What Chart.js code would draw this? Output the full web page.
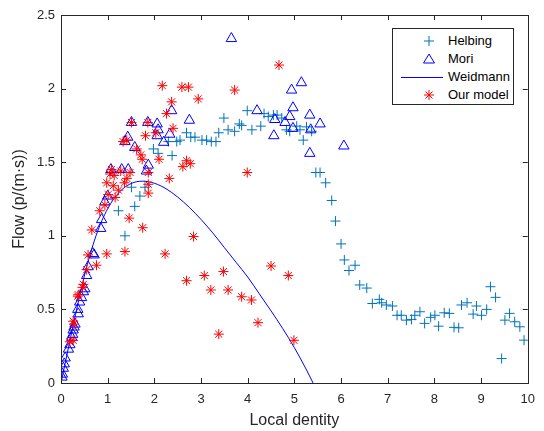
<!DOCTYPE html>
<html>
<head>
<meta charset="utf-8">
<script src="https://cdn.jsdelivr.net/npm/chart.js@4.4.1/dist/chart.umd.min.js"></script>
<style>
  html, body { margin: 0; padding: 0; background: #fff; }
  #wrap { position: relative; width: 544px; height: 431px; }
  #legend {
    position: absolute; left: 392px; top: 28px; width: 120px; height: 75px;
    border: 1px solid #262626; background: #fff;
    font: 13px 'Liberation Sans', Arial, sans-serif; color: #000;
  }
  #legend .row { position: absolute; left: 0; height: 18px; line-height: 18px; }
  #legend svg { position: absolute; left: 6px; top: 0; }
  #legend span { position: absolute; left: 55px; white-space: nowrap; }
</style>
</head>
<body>
<div id="wrap">
  <canvas id="chart" width="544" height="431"></canvas>
  <div id="legend">
    <div class="row" style="top:3px"><svg width="46" height="18"><path d="M30 4v10M25 9h10" stroke="#0072BD" fill="none"/></svg><span>Helbing</span></div>
    <div class="row" style="top:21px"><svg width="46" height="18"><path d="M30 4L35.5 13H24.5Z" stroke="#0000FF" fill="none"/></svg><span>Mori</span></div>
    <div class="row" style="top:39px"><svg width="46" height="18"><path d="M2 9.5H44" stroke="#0000FF" fill="none"/></svg><span>Weidmann</span></div>
    <div class="row" style="top:57px"><svg width="46" height="18"><path d="M30 4v10M25 9h10M26.5 5.5l7 7M33.5 5.5l-7 7" stroke="#FF0000" fill="none"/></svg><span>Our model</span></div>
  </div>
</div>
<script>
// x ticks / y ticks
const xTicks = [0, 1, 2, 3, 4, 5, 6, 7, 8, 9, 10];
const yTicks = [0, 0.5, 1, 1.5, 2, 2.5];

// Helbing (density, flow)
const helbing = [
  [1.23, 1.17], [1.37, 1.0], [1.51, 1.33], [1.58, 1.20], [1.69, 1.27], [1.80, 1.33],
  [1.98, 1.59], [2.08, 1.56], [2.30, 1.64], [2.38, 1.545], [2.48, 1.64], [2.55, 1.65],
  [2.69, 1.70], [2.78, 1.67], [2.87, 1.67], [3.02, 1.65], [3.12, 1.65], [3.22, 1.64],
  [3.32, 1.64], [3.38, 1.70], [3.49, 1.80], [3.58, 1.72], [3.72, 1.71], [3.82, 1.76],
  [3.87, 1.75], [3.99, 1.85], [4.09, 1.72], [4.28, 1.745], [4.35, 1.83], [4.44, 1.81],
  [4.55, 1.82], [4.63, 1.82], [4.73, 1.80], [4.83, 1.72], [4.90, 1.71], [5.05, 1.745],
  [5.12, 1.72], [5.19, 1.65], [5.26, 1.74], [5.37, 1.71], [5.46, 1.43], [5.55, 1.43],
  [5.67, 1.36], [5.80, 1.24], [5.88, 1.10], [6.0, 0.945], [6.07, 0.836], [6.17, 0.764],
  [6.30, 0.80], [6.40, 0.666], [6.55, 0.645], [6.67, 0.54], [6.82, 0.568], [6.87, 0.545],
  [6.97, 0.53], [7.10, 0.523], [7.20, 0.46], [7.29, 0.46], [7.40, 0.427], [7.51, 0.432],
  [7.58, 0.46], [7.69, 0.484], [7.79, 0.405], [7.92, 0.446], [8.01, 0.46], [8.09, 0.386],
  [8.21, 0.477], [8.32, 0.473], [8.42, 0.378], [8.52, 0.375], [8.58, 0.53], [8.70, 0.545],
  [8.83, 0.468], [8.90, 0.523], [9.01, 0.46], [9.12, 0.50], [9.20, 0.654], [9.31, 0.582],
  [9.44, 0.166], [9.51, 0.427], [9.61, 0.473], [9.72, 0.416], [9.83, 0.382], [9.92, 0.291]
];

// Mori
const mori = [
  [0.02, 0.04], [0.03, 0.06], [0.05, 0.10], [0.07, 0.13], [0.09, 0.17], [0.16, 0.23],
  [0.19, 0.26], [0.23, 0.31], [0.25, 0.33], [0.26, 0.36], [0.28, 0.38], [0.30, 0.40],
  [0.36, 0.50], [0.37, 0.47], [0.40, 0.55], [0.44, 0.58], [0.48, 0.62], [0.51, 0.64],
  [0.55, 0.73], [0.58, 0.79], [0.68, 0.88], [0.71, 0.87], [0.85, 1.05], [0.87, 1.11],
  [0.94, 1.23], [1.0, 1.27], [1.07, 1.45], [1.30, 1.45], [1.44, 1.45], [1.37, 1.64],
  [1.43, 1.67], [1.51, 1.77], [1.58, 1.60], [1.83, 1.44], [1.87, 1.48], [1.86, 1.77],
  [2.06, 1.76], [2.06, 1.68], [2.08, 1.72], [2.20, 1.635], [2.33, 1.69], [2.37, 1.85],
  [2.75, 1.785], [3.65, 2.34], [4.20, 1.85], [4.56, 1.68], [4.58, 1.79], [4.80, 1.77],
  [4.90, 1.81], [4.94, 1.99], [4.97, 1.87], [4.97, 1.73], [5.15, 2.04], [5.33, 1.82],
  [5.35, 1.72], [5.55, 1.76], [5.33, 1.56], [6.06, 1.61]
];

// Weidmann curve
const weidmannX = [0, 0.1, 0.25, 0.5, 0.75, 1.0, 1.25, 1.5, 1.75, 2.0, 2.25, 2.5, 2.75, 3.0, 3.25, 3.5, 3.75, 4.0, 4.25, 4.5, 4.75, 5.0, 5.25, 5.4];
const weidmannY = [0, 0.15, 0.375, 0.727, 1.0, 1.184, 1.297, 1.355, 1.371, 1.357, 1.32, 1.263, 1.193, 1.111, 1.02, 0.92, 0.82, 0.72, 0.605, 0.49, 0.37, 0.24, 0.095, 0];

// Our model
const ourModel = [
  [0.19, 0.28], [0.26, 0.29], [0.26, 0.42], [0.28, 0.40], [0.36, 0.59], [0.37, 0.60],
  [0.46, 0.65], [0.48, 0.67], [0.55, 0.77], [0.58, 0.87], [0.66, 1.04], [0.76, 0.80],
  [0.83, 1.17], [0.94, 1.21], [0.98, 0.877], [0.98, 1.36], [1.01, 1.28], [1.05, 1.42],
  [1.08, 1.45], [1.12, 1.34], [1.14, 1.41], [1.16, 1.26], [1.23, 1.31], [1.28, 1.44],
  [1.36, 1.36], [1.37, 0.893], [1.41, 1.39], [1.46, 1.12], [1.48, 1.43], [1.75, 1.055],
  [1.87, 1.29], [1.87, 1.35], [1.87, 1.43], [2.23, 0.877], [2.32, 1.39], [1.33, 1.64],
  [1.41, 1.65], [1.51, 1.77], [1.62, 1.59], [1.71, 1.55], [1.74, 1.52], [1.81, 1.68],
  [1.86, 1.77], [2.03, 1.70], [2.10, 1.52], [2.17, 2.02], [2.26, 1.83], [2.37, 1.91],
  [2.40, 1.73], [2.59, 2.01], [2.61, 1.47], [2.69, 1.51], [2.73, 2.01], [2.77, 1.49],
  [2.94, 1.93], [3.72, 1.99], [4.67, 2.16], [3.99, 1.43], [2.69, 0.695], [2.84, 0.995],
  [3.07, 0.73], [3.21, 0.632], [3.38, 0.332], [3.48, 0.757], [3.58, 0.632], [3.87, 0.586],
  [4.08, 0.564], [4.22, 0.41], [4.50, 0.795], [4.87, 0.73], [4.99, 0.29]
];

const ink = '#262626';
const font = "'Liberation Sans', Arial, sans-serif";
const pts = (list) => list.map(([x, y]) => ({ x, y }));

// MATLAB style box with inward ticks
const boxTicks = {
  id: 'boxTicks',
  afterDraw(chart) {
    const { ctx, chartArea: a, scales: { x, y } } = chart;
    const len = 5;
    ctx.save();
    ctx.strokeStyle = ink;
    ctx.lineWidth = 1;
    ctx.beginPath();
    xTicks.forEach((v) => {
      const px = Math.round(x.getPixelForValue(v)) + 0.5;
      ctx.moveTo(px, a.bottom); ctx.lineTo(px, a.bottom - len);
      ctx.moveTo(px, a.top); ctx.lineTo(px, a.top + len);
    });
    yTicks.forEach((v) => {
      const py = Math.round(y.getPixelForValue(v)) + 0.5;
      ctx.moveTo(a.left, py); ctx.lineTo(a.left + len, py);
      ctx.moveTo(a.right, py); ctx.lineTo(a.right - len, py);
    });
    ctx.stroke();
    ctx.strokeRect(Math.round(a.left) + 0.5, Math.round(a.top) + 0.5, Math.round(a.right - a.left), Math.round(a.bottom - a.top));
    ctx.restore();
  }
};

new Chart(document.getElementById('chart'), {
  type: 'scatter',
  data: {
    datasets: [
      { label: 'Helbing', data: pts(helbing), order: 3, pointStyle: 'cross', pointRadius: 5,
        borderColor: '#0072BD', backgroundColor: '#0072BD', borderWidth: 1 },
      { label: 'Mori', data: pts(mori), order: 2, pointStyle: 'triangle', pointRadius: 6,
        borderColor: '#0000FF', backgroundColor: 'rgba(0,0,0,0)', borderWidth: 1 },
      { label: 'Weidmann', type: 'line', data: weidmannX.map((x, i) => ({ x, y: weidmannY[i] })), order: 1,
        borderColor: '#0000FF', borderWidth: 1, pointRadius: 0, cubicInterpolationMode: 'monotone', fill: false },
      { label: 'Our model', data: pts(ourModel), order: 0, pointStyle: 'star', pointRadius: 5,
        borderColor: '#FF0000', backgroundColor: '#FF0000', borderWidth: 1 }
    ]
  },
  options: {
    responsive: false,
    animation: false,
    layout: { padding: { top: 15, right: 16, left: 0, bottom: 0 } },
    plugins: { legend: { display: false }, tooltip: { enabled: false } },
    scales: {
      x: {
        type: 'linear', min: 0, max: 10,
        afterFit: (s) => { s.height = 48; },
        afterBuildTicks: (s) => { s.ticks = xTicks.map((value) => ({ value })); },
        grid: { display: false, drawTicks: false },
        border: { display: false },
        ticks: { color: ink, padding: 9, font: { family: font, size: 13 }, maxRotation: 0, callback: (v) => String(v) },
        title: { display: true, text: 'Local dentity', color: ink, padding: { top: 0, bottom: 1 }, font: { family: font, size: 16 } }
      },
      y: {
        type: 'linear', min: 0, max: 2.5,
        afterFit: (s) => { s.width = 61; },
        afterBuildTicks: (s) => { s.ticks = yTicks.map((value) => ({ value })); },
        grid: { display: false, drawTicks: false },
        border: { display: false },
        ticks: { color: ink, padding: 6, font: { family: font, size: 13 }, callback: (v) => String(v) },
        title: { display: true, text: 'Flow (p/(m·s))', color: ink, padding: { top: 10, bottom: 0 }, font: { family: font, size: 16 } }
      }
    }
  },
  plugins: [boxTicks]
});
</script>
</body>
</html>
